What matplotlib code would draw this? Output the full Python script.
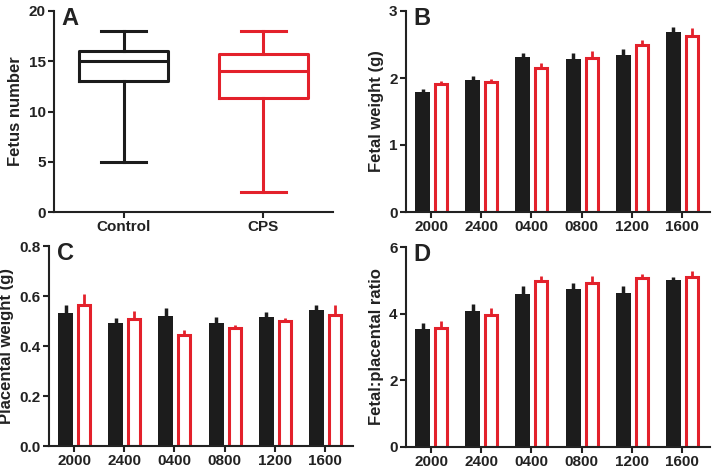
import numpy as np
import matplotlib
matplotlib.use('Agg')
import matplotlib.pyplot as plt

plt.rcParams['font.family'] = ['Liberation Sans', 'DejaVu Sans']
plt.rcParams['font.weight'] = 'bold'
plt.rcParams['axes.labelweight'] = 'bold'

RED = '#e3212b'
BLACK = '#1c1c1c'
TXT = '#222222'

# A: box plot summary (whisker low, Q1, median, Q3, whisker high)
box_groups = ['Control', 'CPS']
box_low = [5, 2]
box_q1 = [13, 11.3]
box_med = [15, 14]
box_q3 = [16, 15.7]
box_high = [18, 18]

# B-D: bar charts by time point
times = ['2000', '2400', '0400', '0800', '1200', '1600']

fetal_ctrl = [1.79, 1.97, 2.31, 2.28, 2.34, 2.69]
fetal_ctrl_err = [0.04, 0.06, 0.06, 0.10, 0.09, 0.07]
fetal_cps = [1.91, 1.94, 2.15, 2.30, 2.50, 2.63]
fetal_cps_err = [0.05, 0.04, 0.07, 0.10, 0.07, 0.11]

plac_ctrl = [0.531, 0.492, 0.520, 0.493, 0.517, 0.544]
plac_ctrl_err = [0.033, 0.021, 0.031, 0.024, 0.019, 0.020]
plac_cps = [0.564, 0.509, 0.444, 0.473, 0.499, 0.524]
plac_cps_err = [0.043, 0.031, 0.020, 0.012, 0.014, 0.040]

ratio_ctrl = [3.53, 4.08, 4.58, 4.73, 4.63, 5.02]
ratio_ctrl_err = [0.20, 0.22, 0.25, 0.19, 0.20, 0.08]
ratio_cps = [3.56, 3.95, 4.97, 4.92, 5.06, 5.09]
ratio_cps_err = [0.22, 0.23, 0.17, 0.20, 0.13, 0.20]

W, H = 714, 471
fig = plt.figure(figsize=(W / 100, H / 100), dpi=100)


def make_ax(left, top, right, bottom):
    return fig.add_axes([left / W, 1 - bottom / H, (right - left) / W, (bottom - top) / H])


def style(ax):
    for s in ['top', 'right']:
        ax.spines[s].set_visible(False)
    for s in ['left', 'bottom']:
        ax.spines[s].set_linewidth(1.5)
        ax.spines[s].set_color(TXT)
    ax.tick_params(width=1.5, length=4, colors=TXT, labelsize=11, pad=2)


def letter(ax, t):
    ax.text(0.025, 1.02, t, transform=ax.transAxes, fontsize=17, fontweight='bold',
            va='top', ha='left', color=TXT)


# panel A
ax = make_ax(54, 11, 333, 212)
style(ax)
stats = []
for i in range(2):
    stats.append(dict(whislo=box_low[i], q1=box_q1[i], med=box_med[i],
                      q3=box_q3[i], whishi=box_high[i], fliers=[], label=box_groups[i]))
bp = ax.bxp(stats, positions=[1, 2], widths=0.64, showfliers=False)
for i, c in enumerate([BLACK, RED]):
    for key in ['boxes', 'medians']:
        bp[key][i].set_color(c)
        bp[key][i].set_linewidth(2.2)
    for key in ['whiskers', 'caps']:
        for ln in bp[key][2 * i:2 * i + 2]:
            ln.set_color(c)
            ln.set_linewidth(2.2)
ax.set_xlim(0.5, 2.5)
ax.set_ylim(0, 20)
ax.set_yticks([0, 5, 10, 15, 20])
ax.set_ylabel('Fetus number', fontsize=12, color=TXT)
letter(ax, 'A')


def bars(ax, ctrl, ctrl_err, cps, cps_err, ylim, yticks, ylabel, fmt=None):
    style(ax)
    x = np.arange(len(times))
    ax.bar(x - 0.17, ctrl, 0.3, color=BLACK, zorder=2)
    ax.errorbar(x - 0.17, ctrl, yerr=[np.zeros(len(x)), ctrl_err], fmt='none',
                ecolor=BLACK, elinewidth=2.5, capsize=0, zorder=1)
    ax.bar(x + 0.2, cps, 0.24, facecolor='white', edgecolor=RED, linewidth=2.2, zorder=2)
    ax.errorbar(x + 0.2, cps, yerr=[np.zeros(len(x)), cps_err], fmt='none',
                ecolor=RED, elinewidth=2, capsize=0, zorder=1)
    ax.set_xticks(x)
    ax.set_xticklabels(times)
    ax.set_xlim(-0.5, 5.56)
    ax.set_ylim(*ylim)
    ax.set_yticks(yticks)
    if fmt:
        ax.set_yticklabels([fmt % v for v in yticks])
    ax.set_ylabel(ylabel, fontsize=12, color=TXT)


ax = make_ax(406, 11, 710, 212)
bars(ax, fetal_ctrl, fetal_ctrl_err, fetal_cps, fetal_cps_err, (0, 3), [0, 1, 2, 3], 'Fetal weight (g)')
letter(ax, 'B')

ax = make_ax(49, 246, 353, 446)
bars(ax, plac_ctrl, plac_ctrl_err, plac_cps, plac_cps_err, (0, 0.8), [0, 0.2, 0.4, 0.6, 0.8],
     'Placental weight (g)', '%.1f')
letter(ax, 'C')

ax = make_ax(406, 247, 710, 447)
bars(ax, ratio_ctrl, ratio_ctrl_err, ratio_cps, ratio_cps_err, (0, 6), [0, 2, 4, 6], 'Fetal:placental ratio')
letter(ax, 'D')

fig.savefig('out.png', dpi=100)
